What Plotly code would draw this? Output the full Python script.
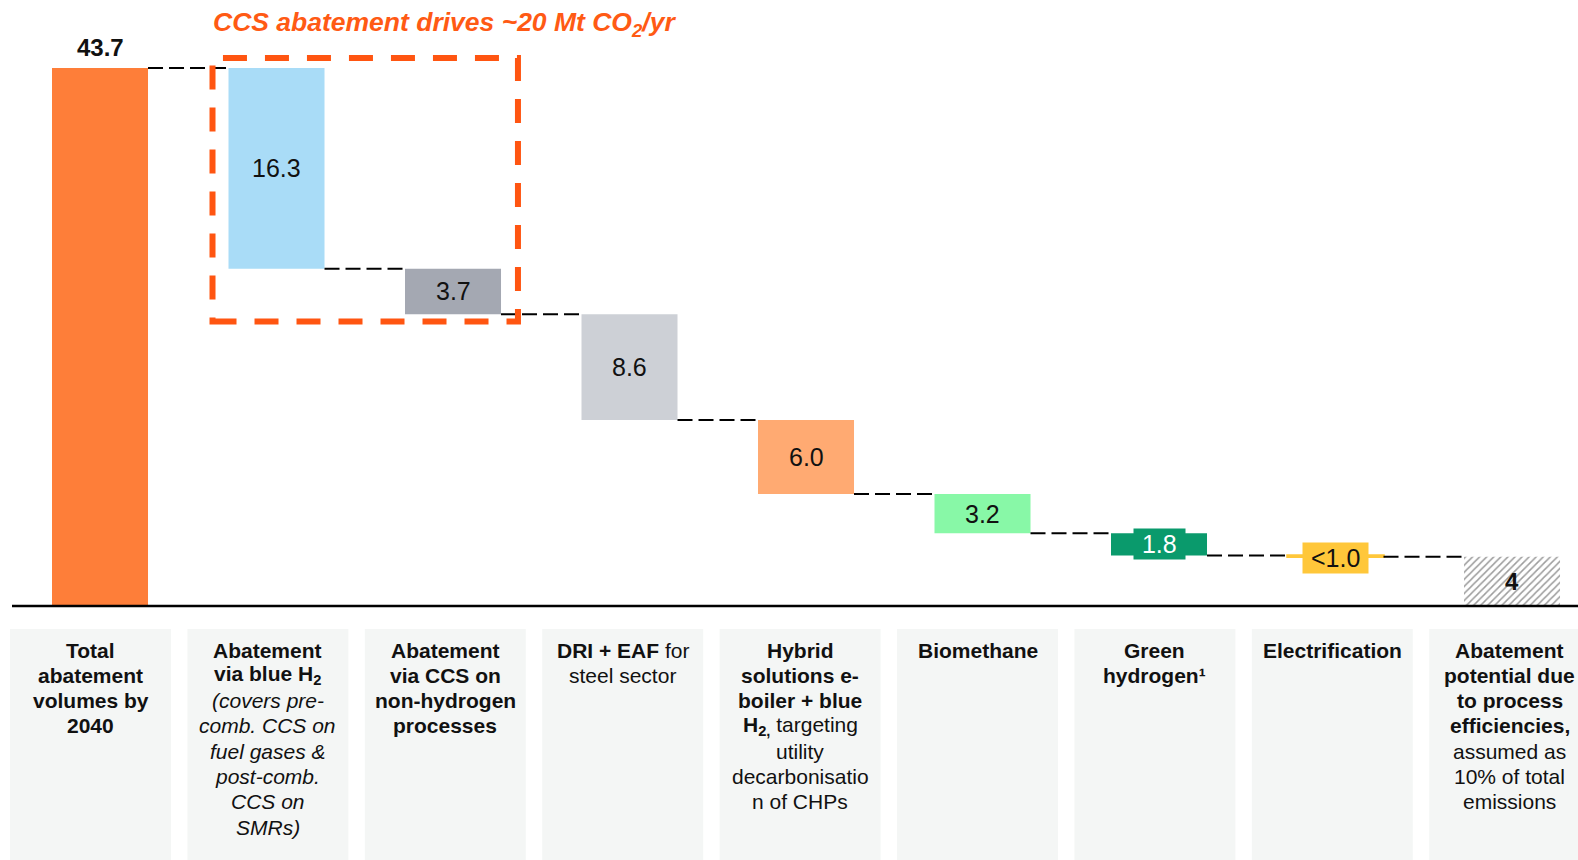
import plotly.graph_objects as go

# ---- data -------------------------------------------------------------
values = [43.7, 16.3, 3.7, 8.6, 6.0, 3.2, 1.8, 0.1, 4.0]
measures = ["total", "relative", "relative", "relative", "relative",
            "relative", "relative", "relative", "total"]
value_labels = ["43.7", "16.3", "3.7", "8.6", "6.0", "3.2", "1.8", "<1.0", "4"]
bar_colors = ["#FE7E39", "#A9DCF7", "#A4A8B2", "#CDD0D6", "#FFAA72",
              "#88F8A7", "#0A9A6C", "#FFC73A", "#9C9C9C"]

category_lines = [
    ["<b>Total</b>", "<b>abatement</b>", "<b>volumes by</b>", "<b>2040</b>"],
    ["<b>Abatement</b>", "<b>via blue H<sub>2</sub></b>", "<i>(covers pre-</i>",
     "<i>comb. CCS on</i>", "<i>fuel gases &amp;</i>", "<i>post-comb.</i>",
     "<i>CCS on</i>", "<i>SMRs)</i>"],
    ["<b>Abatement</b>", "<b>via CCS on</b>", "<b>non-hydrogen</b>", "<b>processes</b>"],
    ["<b>DRI + EAF</b> for", "steel sector"],
    ["<b>Hybrid</b>", "<b>solutions e-</b>", "<b>boiler + blue</b>",
     "<b>H<sub>2,</sub></b> targeting", "utility", "decarbonisatio", "n of CHPs"],
    ["<b>Biomethane</b>"],
    ["<b>Green</b>", "<b>hydrogen¹</b>"],
    ["<b>Electrification</b>"],
    ["<b>Abatement</b>", "<b>potential due</b>", "<b>to process</b>",
     "<b>efficiencies,</b>", "assumed as", "10% of total", "emissions"],
]

title_text = "<b><i>CCS abatement drives ~20 Mt CO<sub>2</sub>/yr</i></b>"

# ---- geometry helpers -------------------------------------------------
FONT = "Liberation Sans, Arial, sans-serif"
BAR_W = 0.544
X_RANGE = [-0.5666, 8.3739]
Y_RANGE = [-20.634, 49.228]
BOX_PITCH, BOX_OFFSET, BOX_W = 1.0051, -0.0538, 0.912
BOX_TOP, BOX_BOTTOM = -1.87, -21.5
LINE_Y0, LINE_STEP = -3.58, 2.055

positions = list(range(len(values)))

# running level of the waterfall -> base of each floating bar
bases, levels = [], []
running = 0.0
for v, m in zip(values, measures):
    if m == "total":
        bases.append(0.0)
        running = v
    else:
        running = round(running - v, 6)
        bases.append(running)
    levels.append(running)

fig = go.Figure()

# light label panels under each step
shapes = []
for i in positions:
    cx = BOX_OFFSET + BOX_PITCH * i
    shapes.append(dict(type="rect", xref="x", yref="y",
                       x0=cx - BOX_W / 2, x1=cx + BOX_W / 2,
                       y0=BOX_BOTTOM, y1=BOX_TOP,
                       fillcolor="#F4F6F5", line=dict(width=0), layer="below"))

# floating bars (all but the hatched final one)
main_idx = positions[:-1]
fig.add_trace(go.Bar(
    x=[positions[i] for i in main_idx],
    y=[values[i] for i in main_idx],
    base=[bases[i] for i in main_idx],
    width=BAR_W,
    marker=dict(color=[bar_colors[i] for i in main_idx],
                line=dict(color=[bar_colors[i] for i in main_idx],
                          width=[2.5 if values[i] < 0.5 else 0 for i in main_idx])),
    hoverinfo="skip",
))

# hatched remainder bar
last = positions[-1]
fig.add_trace(go.Bar(
    x=[last], y=[values[last]], base=[bases[last]], width=BAR_W,
    marker=dict(color=bar_colors[last], line=dict(width=0),
                pattern=dict(shape="/", bgcolor="white", size=5,
                             solidity=0.3, fillmode="replace")),
    hoverinfo="skip",
))

# dashed connectors between consecutive bars
cx, cy = [], []
for i in positions[:-1]:
    cx += [i + BAR_W / 2, i + 1 - BAR_W / 2, None]
    cy += [levels[i], levels[i], None]
fig.add_trace(go.Scatter(x=cx, y=cy, mode="lines",
                         line=dict(color="black", width=2, dash="15px,6px"),
                         hoverinfo="skip"))

# baseline
shapes.append(dict(type="line", xref="x", yref="y", x0=-0.4986, x1=X_RANGE[1],
                   y0=0, y1=0, line=dict(color="black", width=2.5)))

# CCS highlight frame around the two CCS steps
shapes.append(dict(type="rect", xref="x", yref="y",
                   x0=0.6374, x1=2.368, y0=23.11, y1=44.52,
                   line=dict(color="#FF5511", width=6, dash="24px,18px"),
                   fillcolor="rgba(0,0,0,0)"))

annotations = []

# value labels
for i in positions:
    mid = bases[i] + values[i] / 2
    txt = value_labels[i]
    if i == 0:
        annotations.append(dict(x=i, y=levels[i], xref="x", yref="y",
                                text="<b>" + txt + "</b>", showarrow=False,
                                yanchor="bottom", yshift=5,
                                font=dict(family=FONT, size=24, color="#111111")))
    elif i == last:
        annotations.append(dict(x=i, y=mid, xref="x", yref="y",
                                text="<b>" + txt + "</b>", showarrow=False,
                                font=dict(family=FONT, size=24, color="#111111")))
    elif i == 6:
        annotations.append(dict(x=i, y=mid, xref="x", yref="y",
                                text="\u00a0" + txt + "\u00a0", showarrow=False,
                                bgcolor=bar_colors[i], borderpad=1,
                                font=dict(family=FONT, size=25, color="white")))
    elif i == 7:
        annotations.append(dict(x=i, y=mid, xref="x", yref="y",
                                text="\u00a0" + txt + "\u00a0", showarrow=False,
                                bgcolor=bar_colors[i], borderpad=1, yshift=-2,
                                font=dict(family=FONT, size=25, color="#111111")))
    else:
        annotations.append(dict(x=i, y=mid, xref="x", yref="y", text=txt,
                                showarrow=False,
                                font=dict(family=FONT, size=25, color="#111111")))

# category descriptions, one annotation per line
for i, lines in enumerate(category_lines):
    bx = BOX_OFFSET + BOX_PITCH * i
    for k, line in enumerate(lines):
        annotations.append(dict(x=bx, y=LINE_Y0 - k * LINE_STEP, xref="x", yref="y",
                                text=line, showarrow=False, xanchor="center",
                                yanchor="middle",
                                font=dict(family=FONT, size=21, color="#111111")))

# headline
annotations.append(dict(x=211 / 1578, y=1 - 24 / 860, xref="paper", yref="paper",
                        text=title_text, showarrow=False, xanchor="left",
                        yanchor="middle",
                        font=dict(family=FONT, size=26.5, color="#FF5A14")))

fig.update_layout(
    width=1578, height=860,
    margin=dict(l=0, r=0, t=0, b=0),
    paper_bgcolor="white", plot_bgcolor="white",
    showlegend=False, barmode="overlay",
    xaxis=dict(range=X_RANGE, visible=False, fixedrange=True),
    yaxis=dict(range=Y_RANGE, visible=False, fixedrange=True),
    shapes=shapes, annotations=annotations,
)

fig.write_html("out.html", config={"displayModeBar": False})
